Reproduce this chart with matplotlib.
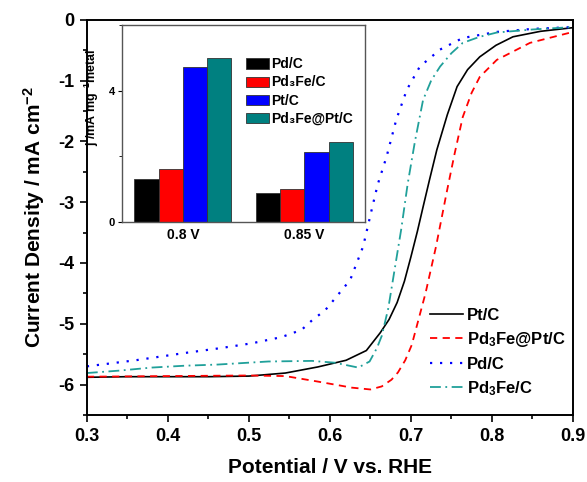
import matplotlib
matplotlib.use('Agg')
import matplotlib.pyplot as plt
from matplotlib.ticker import MultipleLocator

plt.rcParams['font.family'] = ['Liberation Sans', 'DejaVu Sans']
plt.rcParams['font.weight'] = 'bold'
plt.rcParams['mathtext.default'] = 'regular'

# LSV curves (potential in V vs RHE, current density in mA cm^-2)
pt_v = [0.30, 0.35, 0.40, 0.45, 0.50, 0.545, 0.585, 0.62, 0.645, 0.662, 0.673,
        0.683, 0.692, 0.70, 0.708, 0.715, 0.723, 0.732, 0.745, 0.757, 0.770,
        0.785, 0.805, 0.826, 0.86, 0.90]
pt_j = [-5.88, -5.87, -5.87, -5.87, -5.86, -5.81, -5.71, -5.60, -5.44, -5.15, -4.93,
        -4.65, -4.30, -3.90, -3.48, -3.08, -2.63, -2.14, -1.56, -1.10, -0.82,
        -0.61, -0.42, -0.28, -0.19, -0.13]

pd3fept_v = [0.30, 0.40, 0.50, 0.545, 0.585, 0.627, 0.65, 0.664, 0.676, 0.684,
             0.693, 0.701, 0.709, 0.718, 0.731, 0.744, 0.754, 0.764, 0.775,
             0.785, 0.806, 0.847, 0.90]
pd3fept_j = [-5.87, -5.86, -5.85, -5.86, -5.95, -6.05, -6.08, -6.03, -5.92, -5.80,
             -5.60, -5.35, -4.95, -4.50, -3.73, -2.85, -2.20, -1.60, -1.20,
             -0.94, -0.66, -0.38, -0.20]

pd_v = [0.30, 0.36, 0.421, 0.465, 0.504, 0.54, 0.565, 0.579, 0.594, 0.604,
        0.625, 0.641, 0.652, 0.659, 0.670, 0.682, 0.695, 0.711, 0.736, 0.764,
        0.806, 0.85, 0.90]
pd_j = [-5.70, -5.60, -5.48, -5.40, -5.32, -5.22, -5.10, -4.93, -4.78, -4.62,
        -4.28, -3.73, -3.10, -2.71, -2.25, -1.64, -1.15, -0.77, -0.49, -0.30,
        -0.20, -0.15, -0.12]

pd3fe_v = [0.30, 0.34, 0.38, 0.42, 0.462, 0.524, 0.578, 0.606, 0.635, 0.649,
           0.658, 0.664, 0.672, 0.680, 0.688, 0.696, 0.705, 0.715, 0.725,
           0.736, 0.75, 0.764, 0.785, 0.806, 0.85, 0.90]
pd3fe_j = [-5.81, -5.77, -5.72, -5.69, -5.67, -5.62, -5.61, -5.64, -5.72, -5.62,
           -5.40, -5.20, -4.75, -4.10, -3.45, -2.70, -2.00, -1.32, -1.00,
           -0.77, -0.55, -0.38, -0.28, -0.21, -0.16, -0.12]

# mass activity inset
groups = ['0.8 V', '0.85 V']
catalysts = ['Pd/C', 'Pd₃Fe/C', 'Pt/C', 'Pd₃Fe@Pt/C']
activity = [[1.31, 0.88],
            [1.62, 1.00],
            [4.72, 2.13],
            [5.00, 2.44]]
bar_colors = ['black', 'red', 'blue', '#008080']

fig = plt.figure(figsize=(5.87, 4.82), dpi=100)
ax = fig.add_axes([0.148, 0.139, 0.828, 0.820])

ax.plot(pt_v, pt_j, '-', color='black', lw=1.2, label='Pt/C')
ax.plot(pd3fept_v, pd3fept_j, '--', color='red', lw=1.3, dashes=(4, 3),
        label='Pd$_3$Fe@Pt/C')
ax.plot(pd_v, pd_j, ':', color='blue', lw=1.6, dashes=(1, 3.5), label='Pd/C')
ax.plot(pd3fe_v, pd3fe_j, '-.', color='#20a09a', lw=1.3, dashes=(6, 2.5, 1, 2.5),
        label='Pd$_3$Fe/C')

ax.set_xlim(0.3, 0.9)
ax.set_ylim(-6.5, 0)
ax.xaxis.set_major_locator(MultipleLocator(0.1))
ax.xaxis.set_minor_locator(MultipleLocator(0.05))
ax.yaxis.set_major_locator(MultipleLocator(1))
ax.yaxis.set_minor_locator(MultipleLocator(0.5))
ax.tick_params(which='major', length=5, width=1.2, labelsize=13, pad=4)
ax.tick_params(which='minor', length=3, width=1.2)
ax.set_xticklabels([f'{t:.1f}' for t in ax.get_xticks()])
ax.set_yticklabels([f'{t:.0f}' for t in ax.get_yticks()])
for s in ax.spines.values():
    s.set_linewidth(1.4)
ax.set_xlabel('Potential / V vs. RHE', fontsize=15, fontweight='bold', labelpad=10)
ax.set_ylabel('Current Density / mA cm$^{-2}$', fontsize=15, fontweight='bold',
              labelpad=8)
ax.legend(loc='lower left', bbox_to_anchor=(0.675, 0.005), frameon=False,
          fontsize=12, handlelength=2.0, handletextpad=0.2, labelspacing=0.45)

# inset bar chart
ins = fig.add_axes([0.208, 0.539, 0.414, 0.409])
width = 0.2
for i, (name, vals) in enumerate(zip(catalysts, activity)):
    xs = [g + (i - 1.5) * width for g in range(len(groups))]
    ins.bar(xs, vals, width, color=bar_colors[i], edgecolor='#333333', lw=0.6,
            label=name)
ins.set_xlim(-0.5, 1.5)
ins.set_ylim(0, 6)
ins.set_xticks(range(len(groups)))
ins.set_xticklabels(groups, fontsize=10, fontweight='bold')
ins.tick_params(axis='x', length=0, pad=4)
ins.yaxis.set_major_locator(MultipleLocator(4))
ins.yaxis.set_minor_locator(MultipleLocator(2))
ins.tick_params(axis='y', which='major', length=3, labelsize=8, pad=2)
ins.tick_params(axis='y', which='minor', length=2)
ins.set_ylabel('j /mA mg$^{-1}$metal', fontsize=9, fontweight='bold')
ins.yaxis.set_label_coords(-0.085, 0.635)
for s in ins.spines.values():
    s.set_color('#555555')
    s.set_linewidth(1.0)
ins.legend(loc='upper left', bbox_to_anchor=(0.46, 0.90), frameon=False,
           fontsize=10, handlelength=1.6, handleheight=0.75,
           handletextpad=0.2, labelspacing=0.3)

fig.savefig('out.png', dpi=100)
